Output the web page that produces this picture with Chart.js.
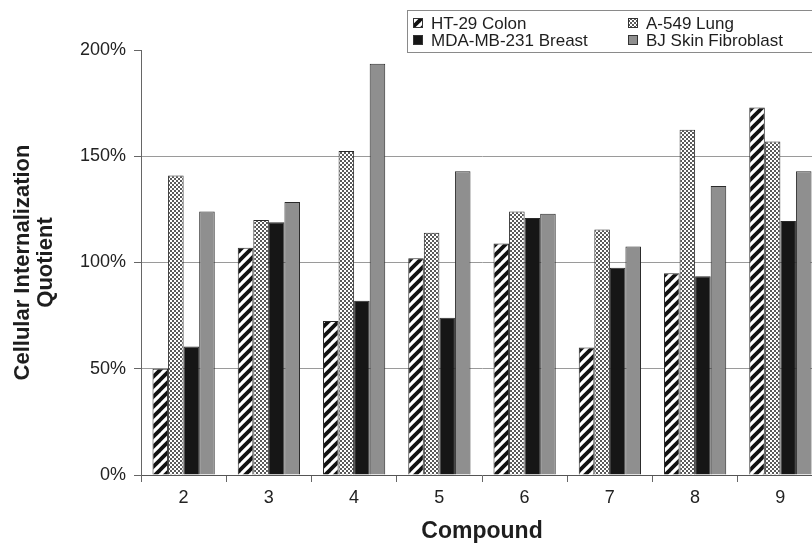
<!DOCTYPE html>
<html>
<head>
<meta charset="utf-8">
<script src="https://cdn.jsdelivr.net/npm/chart.js@4/dist/chart.umd.min.js"></script>
<style>
  html, body { margin: 0; padding: 0; background: #ffffff; overflow: hidden; }
  #wrap { position: relative; width: 823px; height: 546px; }
</style>
</head>
<body>
<div id="wrap"><canvas id="chart"></canvas></div>
<script>
// Compounds on the x axis
const categories = ['2', '3', '4', '5', '6', '7', '8', '9'];

// Cellular internalization quotient (%) per cell line
const ht29Colon    = [50, 107, 72.5, 102, 109, 60, 95, 173];
const a549Lung     = [141, 120, 152.5, 114, 124, 115.5, 162.5, 157];
const mdaBreast    = [60.5, 119, 82, 74, 121, 97.5, 93.5, 119.5];
const bjFibroblast = [124, 128.5, 193.5, 143, 123, 107.5, 136, 143];

const seriesLabels = ['HT-29 Colon', 'A-549 Lung', 'MDA-MB-231 Breast', 'BJ Skin Fibroblast'];
const yTickValues = [0, 50, 100, 150, 200];

// Fill patterns
function hatchPattern() {
  const s = 10;
  const c = document.createElement('canvas');
  c.width = s; c.height = s;
  const g = c.getContext('2d');
  g.fillStyle = '#ffffff';
  g.fillRect(0, 0, s, s);
  g.strokeStyle = '#111111';
  g.lineWidth = 3.8;
  g.lineCap = 'square';
  for (const off of [-s, 0, s]) {
    g.beginPath();
    g.moveTo(off, s);
    g.lineTo(off + s, 0);
    g.stroke();
  }
  return g.createPattern(c, 'repeat');
}
function dotPattern() {
  const s = 4;
  const c = document.createElement('canvas');
  c.width = s; c.height = s;
  const g = c.getContext('2d');
  g.fillStyle = '#ffffff';
  g.fillRect(0, 0, s, s);
  g.fillStyle = '#5a5a5a';
  g.fillRect(0, 0, 2, 2);
  g.fillRect(2, 2, 2, 2);
  return g.createPattern(c, 'repeat');
}

const fills = [hatchPattern(), dotPattern(), '#161616', '#8f8f8f'];
const seriesData = [ht29Colon, a549Lung, mdaBreast, bjFibroblast];

// Boxed two-column legend drawn at the top right
const boxLegend = {
  id: 'boxLegend',
  afterDraw(chart) {
    const ctx = chart.ctx;
    ctx.save();
    ctx.fillStyle = '#ffffff';
    ctx.fillRect(407, 10, 430, 42);
    ctx.strokeStyle = '#8a8a8a';
    ctx.lineWidth = 1;
    ctx.strokeRect(407.5, 10.5, 430, 42);
    const cols = [413, 628];
    const rows = [23, 40];
    const order = [[0, 0, 0], [1, 1, 0], [2, 0, 1], [3, 1, 1]];
    ctx.font = '17px "Liberation Sans", Arial, sans-serif';
    ctx.textBaseline = 'middle';
    ctx.textAlign = 'left';
    for (const [i, c, r] of order) {
      const ds = chart.data.datasets[i];
      const x = cols[c], y = rows[r];
      ctx.fillStyle = ds.backgroundColor;
      ctx.fillRect(x, y - 5, 10, 10);
      ctx.strokeStyle = '#333333';
      ctx.strokeRect(x + 0.5, y - 4.5, 9, 9);
      ctx.fillStyle = '#1e1e1e';
      ctx.fillText(ds.label, x + 18, y + 1);
    }
    ctx.restore();
  }
};

new Chart(document.getElementById('chart'), {
  type: 'bar',
  data: {
    labels: categories,
    datasets: seriesLabels.map((label, i) => ({
      label,
      data: seriesData[i],
      backgroundColor: fills[i],
      borderColor: '#2a2a2a',
      borderWidth: 1,
      categoryPercentage: 0.73,
      barPercentage: 1.0
    }))
  },
  options: {
    responsive: true,
    maintainAspectRatio: false,
    animation: false,
    layout: { padding: { top: 50, left: 0, right: 0, bottom: 0 } },
    plugins: {
      legend: { display: false },
      tooltip: { enabled: false }
    },
    scales: {
      x: {
        grid: {
          offset: true,
          drawOnChartArea: false,
          drawTicks: true,
          tickLength: 7,
          tickColor: '#666666'
        },
        border: { color: '#555555', width: 1 },
        ticks: {
          color: '#222222',
          padding: 5,
          font: { family: '"Liberation Sans", Arial, sans-serif', size: 18 }
        },
        title: {
          display: true,
          text: 'Compound',
          color: '#1e1e1e',
          padding: { top: 0, bottom: 1 },
          font: { family: '"Liberation Sans", Arial, sans-serif', size: 23, weight: 'bold' }
        },
        afterFit(scale) { scale.height = 71; }
      },
      y: {
        min: 0,
        max: 200,
        afterBuildTicks(scale) { scale.ticks = yTickValues.map(v => ({ value: v })); },
        grid: {
          color: ctx => (ctx.tick && (ctx.tick.value === 0 || ctx.tick.value === 200)) ? 'rgba(0,0,0,0)' : '#9a9a9a',
          lineWidth: 1,
          tickLength: 7,
          tickColor: '#666666'
        },
        border: { color: '#666666', width: 1 },
        ticks: {
          color: '#222222',
          padding: 8,
          callback: v => v + '%',
          font: { family: '"Liberation Sans", Arial, sans-serif', size: 18 }
        },
        title: {
          display: true,
          text: ['Cellular Internalization', 'Quotient'],
          color: '#1e1e1e',
          padding: { top: 11, bottom: 0 },
          font: { family: '"Liberation Sans", Arial, sans-serif', size: 22, weight: 'bold', lineHeight: 1.05 }
        },
        afterFit(scale) { scale.width = 141; }
      }
    }
  },
  plugins: [boxLegend]
});
</script>
</body>
</html>
